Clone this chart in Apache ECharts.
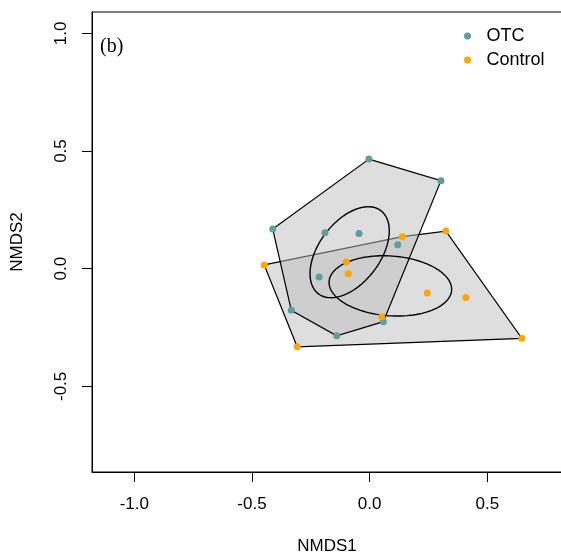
<!DOCTYPE html>
<html><head><meta charset="utf-8">
<script src="https://cdn.jsdelivr.net/npm/echarts@6/dist/echarts.min.js"></script>
<style>html,body{margin:0;padding:0;background:#fff}#c{width:561px;height:555px}</style>
</head><body><div id="c"></div>
<script>
// ---- data ----
const otcX = [-0.003, 0.303, -0.412, -0.190, -0.045, 0.119, -0.215, -0.333, -0.140, 0.058];
const otcY = [0.466, 0.374, 0.169, 0.153, 0.150, 0.102, -0.035, -0.177, -0.285, -0.225];
const ctlX = [0.324, 0.139, -0.448, -0.099, -0.091, 0.245, 0.409, 0.052, 0.647, -0.308];
const ctlY = [0.160, 0.136, 0.016, 0.028, -0.021, -0.103, -0.122, -0.204, -0.296, -0.332];
const otcHull = [0, 1, 9, 8, 7, 2];
const ctlHull = [2, 1, 0, 8, 9];
const ellCx = [-0.085, 0.088];
const ellCy = [0.070, -0.073];
const ellA = [0.221, 0.261];
const ellB = [0.130, 0.127];
const ellAngle = [53.2, -4.2];
const xTicks = [-1.0, -0.5, 0.0, 0.5];
const yTicks = [-0.5, 0.0, 0.5, 1.0];
const groups = ['OTC', 'Control'];

const toPts = (xs, ys) => xs.map((x, i) => [x, ys[i]]);
const otcPts = toPts(otcX, otcY);
const ctlPts = toPts(ctlX, ctlY);
const hullPolys = [ctlHull.map(i => ctlPts[i]), otcHull.map(i => otcPts[i])];
const ellPolys = ellCx.map((cx, k) => {
  const t = ellAngle[k] * Math.PI / 180, pts = [];
  for (let j = 0; j <= 120; j++) {
    const u = j / 120 * 2 * Math.PI;
    const ex = ellA[k] * Math.cos(u), ey = ellB[k] * Math.sin(u);
    pts.push([cx + ex * Math.cos(t) - ey * Math.sin(t), ellCy[k] + ex * Math.sin(t) + ey * Math.cos(t)]);
  }
  return pts;
});

const chart = echarts.init(document.getElementById('c'), null, {renderer: 'canvas'});
const font = 'Liberation Sans, Arial, sans-serif';
const polySeries = (polys, style, z) => ({
  type: 'custom', z: z, silent: true,
  data: polys.map((p, i) => [i]),
  renderItem: (params, api) => {
    const p = polys[params.dataIndex].map(v => api.coord(v));
    return style.closed
      ? {type: 'polygon', shape: {points: p}, style: {fill: style.fill, stroke: style.stroke, lineWidth: style.lw}}
      : {type: 'polyline', shape: {points: p}, style: {fill: null, stroke: style.stroke, lineWidth: style.lw}};
  }
});

chart.setOption({
  animation: false,
  backgroundColor: '#fff',
  title: {text: '(b)', left: 95, top: 32, textStyle: {fontFamily: 'Liberation Serif, Times New Roman, serif', fontSize: 20, fontWeight: 'normal', color: '#000'}},
  grid: {left: 92, top: 12, width: 476, height: 460, outerBoundsMode: 'none', containLabel: false, show: true, borderColor: '#000', borderWidth: 1, backgroundColor: 'transparent'},
  legend: {
    orient: 'vertical', left: 464, top: 27, itemWidth: 28, itemHeight: 7, itemGap: 6, padding: 0,
    data: groups.map(g => ({name: g, icon: 'circle'})),
    textStyle: {fontFamily: font, fontSize: 18, color: '#000', lineHeight: 18}
  },
  xAxis: {
    type: 'value', min: -1.18, max: 0.843,
    name: 'NMDS1', nameLocation: 'middle', nameGap: 66,
    nameTextStyle: {fontFamily: font, fontSize: 17, color: '#000', padding: [0, 6, 0, 0]},
    axisLine: {show: true, onZero: false, lineStyle: {color: '#000', width: 1}},
    axisTick: {show: true, length: 10, customValues: xTicks, lineStyle: {color: '#000'}},
    axisLabel: {customValues: xTicks, margin: 24, fontFamily: font, fontSize: 17, color: '#000', formatter: v => v.toFixed(1)},
    splitLine: {show: false}
  },
  yAxis: {
    type: 'value', min: -0.864, max: 1.091,
    name: 'NMDS2', nameLocation: 'middle', nameGap: 66,
    nameTextStyle: {fontFamily: font, fontSize: 17, color: '#000'},
    axisLine: {show: true, onZero: false, lineStyle: {color: '#000', width: 1}},
    axisTick: {show: true, length: 10, customValues: yTicks, lineStyle: {color: '#000'}},
    axisLabel: {customValues: yTicks, rotate: 90, margin: 22, fontFamily: font, fontSize: 17, color: '#000', formatter: v => v.toFixed(1)},
    splitLine: {show: false}
  },
  series: [
    polySeries(hullPolys, {closed: true, fill: 'rgba(190,190,190,0.5)', stroke: '#000', lw: 1.2}, 1),
    polySeries(ellPolys, {closed: false, stroke: '#000', lw: 1.4}, 2),
    {name: 'OTC', type: 'scatter', z: 3, symbol: 'circle', symbolSize: 7, data: otcPts, itemStyle: {color: '#5F9EA0', opacity: 1}},
    {name: 'Control', type: 'scatter', z: 4, symbol: 'circle', symbolSize: 7, data: ctlPts, itemStyle: {color: '#FFA500', opacity: 1}}
  ]
});
</script></body></html>
